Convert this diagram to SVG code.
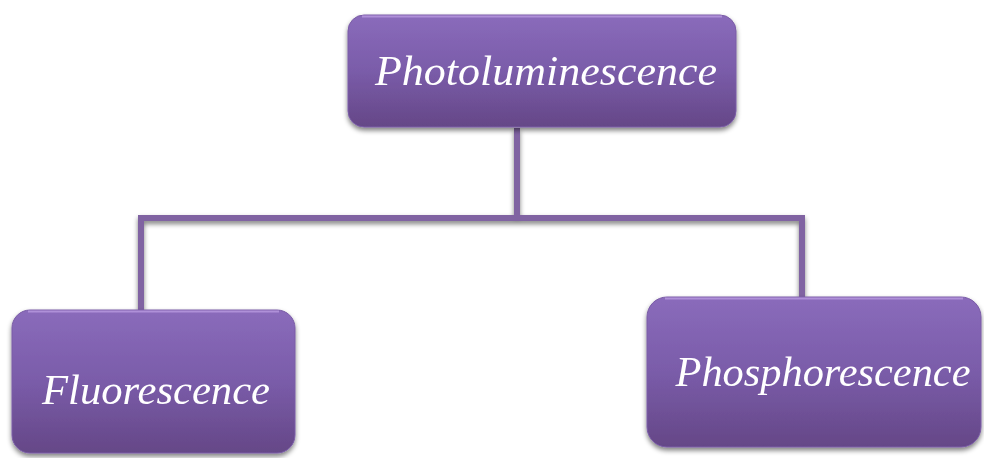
<svg xmlns="http://www.w3.org/2000/svg" width="984" height="458" viewBox="0 0 984 458">
<style>
.box{fill:url(#g);stroke:#7a5ca6;stroke-width:1}
.hl{fill:none;stroke:#b89ae0;stroke-width:2;opacity:0.8}
.lbl{font-family:"Liberation Serif","DejaVu Serif",serif;font-style:italic;font-size:42px;fill:#ffffff}
.conn{fill:none;stroke:#8064a2;stroke-width:6;stroke-linejoin:miter}
</style>
<defs>
<linearGradient id="g" x1="0" y1="0" x2="0" y2="1">
<stop offset="0" stop-color="#8a6bbb"/>
<stop offset="0.5" stop-color="#7a5ca9"/>
<stop offset="1" stop-color="#654787"/>
</linearGradient>
<filter id="sh" x="-10%" y="-10%" width="120%" height="130%">
<feGaussianBlur in="SourceAlpha" stdDeviation="2.5"/>
<feOffset dx="0" dy="3" result="b"/>
<feComponentTransfer><feFuncA type="linear" slope="0.5"/></feComponentTransfer>
<feMerge><feMergeNode/><feMergeNode in="SourceGraphic"/></feMerge>
</filter>
</defs>
<g id="connectors" filter="url(#sh)">
<path class="conn" d="M517,128 V218"/>
<path class="conn" d="M141,310 V218 H802 V297"/>
</g>
<g id="photoluminescence" filter="url(#sh)">
<rect class="box" x="348" y="15" width="388" height="112" rx="16"/>
<path class="hl" d="M362,16.5 H722"/>
<text class="lbl" x="546" y="85" text-anchor="middle" textLength="342" lengthAdjust="spacingAndGlyphs">Photoluminescence</text>
</g>
<g id="fluorescence" filter="url(#sh)">
<rect class="box" x="12" y="310" width="283" height="143" rx="18"/>
<path class="hl" d="M28,311.5 H279"/>
<text class="lbl" x="156" y="404" text-anchor="middle" textLength="228" lengthAdjust="spacingAndGlyphs">Fluorescence</text>
</g>
<g id="phosphorescence" filter="url(#sh)">
<rect class="box" x="647" y="297" width="334" height="150" rx="20"/>
<path class="hl" d="M665,298.5 H963"/>
<text class="lbl" x="823" y="386" text-anchor="middle" textLength="295" lengthAdjust="spacingAndGlyphs">Phosphorescence</text>
</g>
</svg>
